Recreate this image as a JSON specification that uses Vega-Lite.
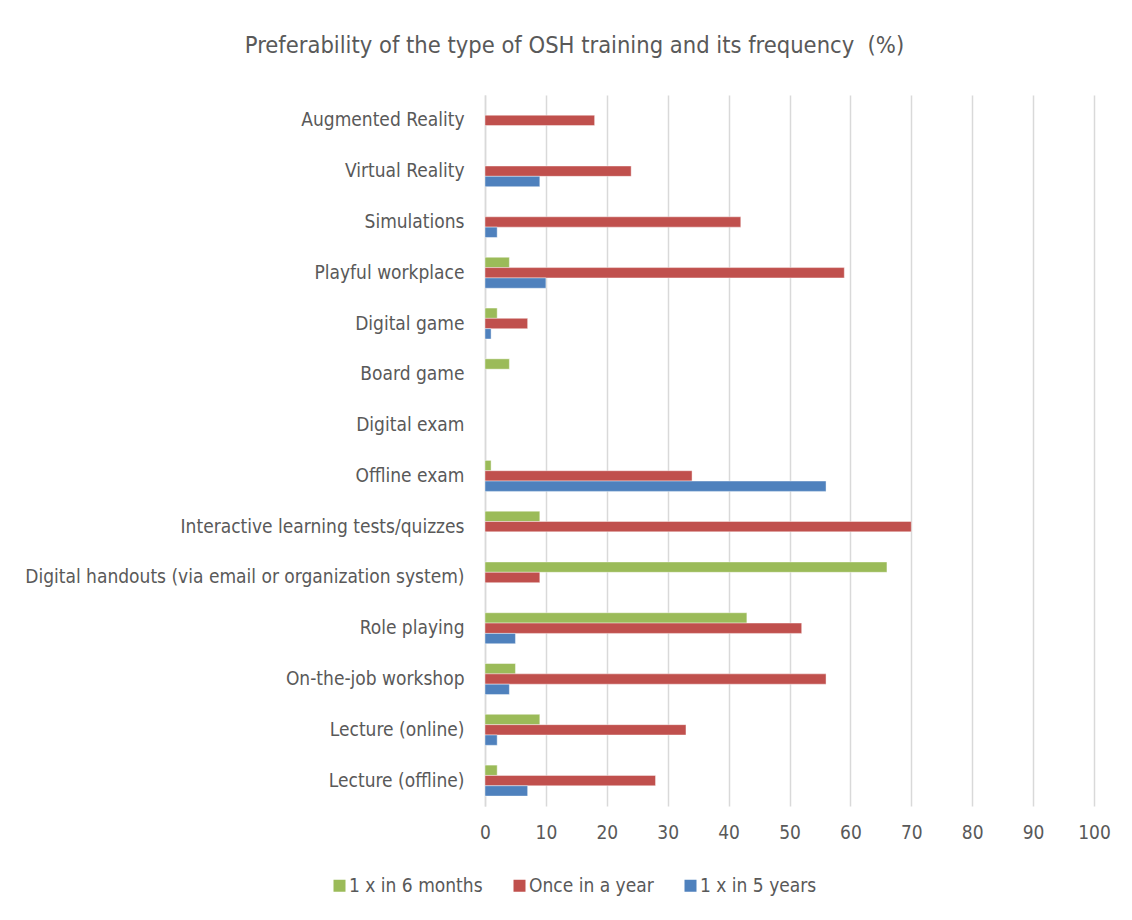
{
  "$schema": "https://vega.github.io/schema/vega-lite/v6.json",
  "width": 609,
  "height": 711,
  "autosize": {"type": "none"},
  "padding": {"left": 485, "top": 95, "right": 38, "bottom": 114},
  "background": "white",
  "title": {
    "text": "Preferability of the type of OSH training and its frequency \u00a0(%)",
    "fontSize": 23.5,
    "font": "Liberation Sans Narrow, DejaVu Sans Condensed, Liberation Sans, sans-serif",
    "fontWeight": "normal",
    "color": "#595959",
    "anchor": "middle",
    "dx": -215,
    "offset": 38
  },
  "data": {
    "values": [
      {"type": "Augmented Reality", "series": "Once in a year", "value": 18},
      {"type": "Virtual Reality", "series": "Once in a year", "value": 24},
      {"type": "Virtual Reality", "series": "1 x in 5 years", "value": 9},
      {"type": "Simulations", "series": "Once in a year", "value": 42},
      {"type": "Simulations", "series": "1 x in 5 years", "value": 2},
      {"type": "Playful workplace", "series": "1 x in 6 months", "value": 4},
      {"type": "Playful workplace", "series": "Once in a year", "value": 59},
      {"type": "Playful workplace", "series": "1 x in 5 years", "value": 10},
      {"type": "Digital game", "series": "1 x in 6 months", "value": 2},
      {"type": "Digital game", "series": "Once in a year", "value": 7},
      {"type": "Digital game", "series": "1 x in 5 years", "value": 1},
      {"type": "Board game", "series": "1 x in 6 months", "value": 4},
      {"type": "Offline exam", "series": "1 x in 6 months", "value": 1},
      {"type": "Offline exam", "series": "Once in a year", "value": 34},
      {"type": "Offline exam", "series": "1 x in 5 years", "value": 56},
      {"type": "Interactive learning tests/quizzes ", "series": "1 x in 6 months", "value": 9},
      {"type": "Interactive learning tests/quizzes ", "series": "Once in a year", "value": 70},
      {"type": "Digital handouts (via email or organization system)", "series": "1 x in 6 months", "value": 66},
      {"type": "Digital handouts (via email or organization system)", "series": "Once in a year", "value": 9},
      {"type": "Role playing", "series": "1 x in 6 months", "value": 43},
      {"type": "Role playing", "series": "Once in a year", "value": 52},
      {"type": "Role playing", "series": "1 x in 5 years", "value": 5},
      {"type": "On-the-job workshop", "series": "1 x in 6 months", "value": 5},
      {"type": "On-the-job workshop", "series": "Once in a year", "value": 56},
      {"type": "On-the-job workshop", "series": "1 x in 5 years", "value": 4},
      {"type": "Lecture (online)", "series": "1 x in 6 months", "value": 9},
      {"type": "Lecture (online)", "series": "Once in a year", "value": 33},
      {"type": "Lecture (online)", "series": "1 x in 5 years", "value": 2},
      {"type": "Lecture (offline)", "series": "1 x in 6 months", "value": 2},
      {"type": "Lecture (offline)", "series": "Once in a year", "value": 28},
      {"type": "Lecture (offline)", "series": "1 x in 5 years", "value": 7}
    ]
  },
  "mark": {"type": "bar", "stroke": "white", "strokeWidth": 0.7, "strokeOpacity": 0.6},
  "encoding": {
    "y": {
      "field": "type",
      "type": "nominal",
      "scale": {
        "domain": ["Augmented Reality", "Virtual Reality", "Simulations", "Playful workplace", "Digital game", "Board game", "Digital exam", "Offline exam", "Interactive learning tests/quizzes ", "Digital handouts (via email or organization system)", "Role playing", "On-the-job workshop", "Lecture (online)", "Lecture (offline)"],
        "paddingInner": 0.39,
        "paddingOuter": 0.195
      },
      "axis": {
        "title": null,
        "ticks": false,
        "domain": true,
        "domainColor": "#d9d9d9",
        "domainWidth": 1.5,
        "labelPadding": 21,
        "labelFontSize": 19,
        "labelFont": "Liberation Sans Narrow, DejaVu Sans Condensed, Liberation Sans, sans-serif",
        "labelColor": "#595959",
        "labelLimit": 600
      }
    },
    "yOffset": {
      "field": "series",
      "type": "nominal",
      "scale": {"domain": ["1 x in 6 months", "Once in a year", "1 x in 5 years"], "paddingInner": 0, "paddingOuter": 0}
    },
    "x": {
      "field": "value",
      "type": "quantitative",
      "scale": {"domain": [0, 100], "nice": false},
      "axis": {
        "title": null,
        "values": [0, 10, 20, 30, 40, 50, 60, 70, 80, 90, 100],
        "ticks": false,
        "domain": false,
        "grid": true,
        "gridColor": "#d9d9d9",
        "gridWidth": 1.5,
        "labelFlush": false,
        "labelPadding": 17,
        "labelFontSize": 19,
        "labelFont": "Liberation Sans Narrow, DejaVu Sans Condensed, Liberation Sans, sans-serif",
        "labelColor": "#595959"
      }
    },
    "color": {
      "field": "series",
      "type": "nominal",
      "scale": {"domain": ["1 x in 6 months", "Once in a year", "1 x in 5 years"], "range": ["#9BBB59", "#C0504D", "#4F81BD"]},
      "legend": {
        "title": null,
        "orient": "none",
        "direction": "horizontal",
        "legendX": -155,
        "legendY": 781,
        "symbolType": "square",
        "symbolSize": 144,
        "symbolStrokeWidth": 0,
        "labelFontSize": 19,
        "labelFont": "Liberation Sans Narrow, DejaVu Sans Condensed, Liberation Sans, sans-serif",
        "labelColor": "#595959",
        "labelOffset": 0,
        "columnPadding": 27,
        "labelLimit": 300
      }
    }
  },
  "config": {"view": {"stroke": null}}
}
